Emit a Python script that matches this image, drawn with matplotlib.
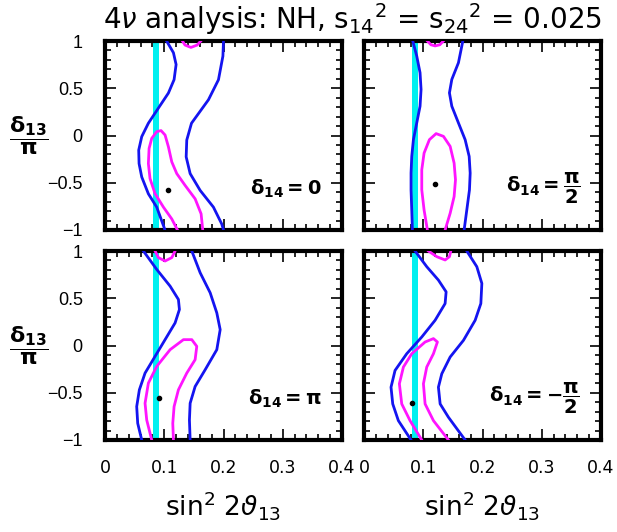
import matplotlib
matplotlib.use("Agg")
import matplotlib.pyplot as plt
from matplotlib.ticker import MultipleLocator

# --- data (x = sin^2 2theta13, y = delta13/pi) ---

# panel delta14 = 0
p0_blue_a_x = [0.104, 0.1155, 0.120, 0.1166, 0.107, 0.090, 0.0732, 0.062, 0.0569, 0.0575, 0.062, 0.0732, 0.0873, 0.0997, 0.101]
p0_blue_a_y = [1.0, 0.876, 0.751, 0.591, 0.449, 0.289, 0.130, -0.012, -0.155, -0.297, -0.439, -0.617, -0.758, -0.972, -1.0]
p0_blue_b_x = [0.200, 0.199, 0.1915, 0.1746, 0.146, 0.138, 0.137, 0.1437, 0.1606, 0.183, 0.197, 0.200]
p0_blue_b_y = [1.0, 0.84, 0.59, 0.378, 0.13, -0.048, -0.226, -0.403, -0.581, -0.758, -0.936, -1.0]
p0_mag_top_x = [0.1307, 0.135, 0.145, 0.1555, 0.1617]
p0_mag_top_y = [1.0, 0.957, 0.932, 0.957, 1.0]
p0_mag_x = [0.1223, 0.1127, 0.0986, 0.0845, 0.076, 0.0732, 0.0744, 0.0789, 0.0873, 0.0946, 0.1014,
            0.107, 0.1127, 0.1211, 0.1352, 0.1521, 0.1622, 0.165]
p0_mag_y = [-1.0, -0.883, -0.758, -0.616, -0.456, -0.297, -0.137, -0.030, 0.041, 0.052, 0.005,
            -0.119, -0.279, -0.403, -0.528, -0.67, -0.829, -1.0]
p0_best = (0.107, -0.574)

# panel delta14 = pi/2
p1_blue_a_x = [0.0823, 0.089, 0.0946, 0.0963, 0.0946, 0.089, 0.0834, 0.0806, 0.0794, 0.0794, 0.0806, 0.0817]
p1_blue_a_y = [1.0, 0.841, 0.664, 0.487, 0.310, 0.133, -0.044, -0.221, -0.398, -0.575, -0.788, -1.0]
p1_blue_b_x = [0.1668, 0.1594, 0.1482, 0.1442, 0.1482, 0.1594, 0.1707, 0.1775, 0.1792, 0.178, 0.1735, 0.169]
p1_blue_b_y = [1.0, 0.77, 0.593, 0.451, 0.310, 0.133, -0.044, -0.221, -0.398, -0.575, -0.788, -1.0]
p1_mag_top_x = [0.107, 0.113, 0.120, 0.128, 0.134]
p1_mag_top_y = [1.0, 0.96, 0.948, 0.96, 1.0]
p1_mag_x = [0.107, 0.1014, 0.0975, 0.0975, 0.1014, 0.1104, 0.1217, 0.1341, 0.1454, 0.1521, 0.1544,
            0.1521, 0.1454, 0.1369]
p1_mag_y = [-1.0, -0.788, -0.575, -0.363, -0.186, -0.044, 0.02, -0.009, -0.115, -0.292, -0.469,
            -0.646, -0.823, -1.0]
p1_best = (0.120, -0.51)

# panel delta14 = pi
p2_blue_a_x = [0.0648, 0.0873, 0.1099, 0.1239, 0.1256, 0.1183, 0.1014, 0.0845, 0.0676, 0.058, 0.0535, 0.0552, 0.062]
p2_blue_a_y = [1.0, 0.805, 0.628, 0.487, 0.381, 0.239, 0.062, -0.115, -0.292, -0.469, -0.646, -0.823, -1.0]
p2_blue_b_x = [0.1465, 0.1606, 0.1775, 0.1887, 0.1944, 0.1887, 0.169, 0.1521, 0.1437, 0.1425, 0.1437]
p2_blue_b_y = [1.0, 0.77, 0.558, 0.345, 0.168, -0.044, -0.257, -0.434, -0.611, -0.788, -1.0]
p2_mag_top_x = [0.0845, 0.0901, 0.1014, 0.1127, 0.1183]
p2_mag_top_y = [1.0, 0.93, 0.894, 0.93, 1.0]
p2_mag_x = [0.0789, 0.0704, 0.0676, 0.0732, 0.0873, 0.1099, 0.1324, 0.1465, 0.1549, 0.1521, 0.138,
            0.1239, 0.1166, 0.1144, 0.1155]
p2_mag_y = [-1.0, -0.788, -0.611, -0.398, -0.221, -0.044, 0.062, 0.062, -0.009, -0.150, -0.292,
            -0.469, -0.646, -0.823, -1.0]
p2_best = (0.0913, -0.558)

# panel delta14 = -pi/2
p3_blue_a_x = [0.0862, 0.1059, 0.1256, 0.1386, 0.1369, 0.12, 0.0975, 0.0721, 0.0524, 0.0456, 0.0485, 0.058, 0.0794]
p3_blue_a_y = [1.0, 0.834, 0.692, 0.568, 0.444, 0.267, 0.090, -0.087, -0.264, -0.441, -0.618, -0.795, -1.0]
p3_blue_b_x = [0.1735, 0.1904, 0.1989, 0.1972, 0.1876, 0.1679, 0.1454, 0.1313, 0.1256, 0.1285, 0.1425, 0.1707]
p3_blue_b_y = [1.0, 0.834, 0.657, 0.444, 0.267, 0.055, -0.122, -0.299, -0.441, -0.618, -0.759, -1.0]
p3_mag_top_x = [0.1087, 0.1228, 0.1369, 0.1442, 0.1465]
p3_mag_top_y = [1.0, 0.94, 0.905, 0.94, 1.0]
p3_mag_x = [0.0975, 0.0777, 0.0637, 0.0597, 0.0665, 0.0806, 0.1031, 0.1172, 0.1239, 0.1172, 0.1059,
            0.1003, 0.1031, 0.1172, 0.1425]
p3_mag_y = [-1.0, -0.795, -0.618, -0.405, -0.228, -0.087, 0.037, 0.073, 0.037, -0.087, -0.228,
            -0.405, -0.618, -0.795, -1.0]
p3_best = (0.0806, -0.607)

band = (0.081, 0.091)
panel_labels = [r"$\mathbf{\delta_{14} = 0}$", r"$\mathbf{\delta_{14} = \dfrac{\pi}{2}}$",
                r"$\mathbf{\delta_{14} = \pi}$", r"$\mathbf{\delta_{14} = -\dfrac{\pi}{2}}$"]
x_ticks = [0, 0.1, 0.2, 0.3, 0.4]
x_ticklabels = ["0", "0.1", "0.2", "0.3", "0.4"]
y_ticks = [-1, -0.5, 0, 0.5, 1]
y_ticklabels = ["\u22121", "\u22120.5", "0", "0.5", "1"]

panels = [
    (p0_blue_a_x, p0_blue_a_y, p0_blue_b_x, p0_blue_b_y, p0_mag_top_x, p0_mag_top_y, p0_mag_x, p0_mag_y, p0_best),
    (p1_blue_a_x, p1_blue_a_y, p1_blue_b_x, p1_blue_b_y, p1_mag_top_x, p1_mag_top_y, p1_mag_x, p1_mag_y, p1_best),
    (p2_blue_a_x, p2_blue_a_y, p2_blue_b_x, p2_blue_b_y, p2_mag_top_x, p2_mag_top_y, p2_mag_x, p2_mag_y, p2_best),
    (p3_blue_a_x, p3_blue_a_y, p3_blue_b_x, p3_blue_b_y, p3_mag_top_x, p3_mag_top_y, p3_mag_x, p3_mag_y, p3_best),
]

plt.rcParams['font.family'] = ['DejaVu Sans']
plt.rcParams['mathtext.fontset'] = 'dejavusans'

fig = plt.figure(figsize=(6.17, 5.32), dpi=100)

W = 617.0
H = 532.0
lefts = [105, 364]
tops = [41, 251]
aw = 237
ah = 189

for i, p in enumerate(panels):
    row = i // 2
    col = i % 2
    ax = fig.add_axes([lefts[col] / W, 1 - (tops[row] + ah) / H, aw / W, ah / H])
    bax, bay, bbx, bby, mtx, mty, mx, my, best = p

    ax.axvspan(band[0], band[1], color='#00f0f0', lw=0, zorder=1)
    ax.plot(bax, bay, color='#1414f0', lw=2, zorder=3)
    ax.plot(bbx, bby, color='#1414f0', lw=2, zorder=3)
    ax.plot(mtx, mty, color='#ff14ff', lw=2, zorder=3)
    ax.plot(mx, my, color='#ff14ff', lw=2, zorder=3)
    ax.plot([best[0]], [best[1]], 'o', color='black', ms=3, zorder=4)

    ax.set_xlim(0, 0.4)
    ax.set_ylim(-1, 1)
    ax.xaxis.set_major_locator(MultipleLocator(0.1))
    ax.xaxis.set_minor_locator(MultipleLocator(0.02))
    ax.yaxis.set_major_locator(MultipleLocator(0.5))
    ax.yaxis.set_minor_locator(MultipleLocator(0.1))
    ax.set_axisbelow(False)
    ax.tick_params(which='both', direction='in', top=True, right=True, width=1.2, color='black')
    ax.tick_params(which='major', length=8)
    ax.tick_params(which='minor', length=4.5)
    for s in ax.spines.values():
        s.set_linewidth(3)

    if col == 0:
        ax.set_yticks(y_ticks)
        ax.set_yticklabels(y_ticklabels, fontsize=13, family='Liberation Sans')
        ax.tick_params(axis='y', pad=16)
        ax.text(-0.32, 0.5, r"$\mathbf{\dfrac{\delta_{13}}{\pi}}$", transform=ax.transAxes,
                fontsize=16, ha='center', va='center')
    else:
        ax.tick_params(axis='y', labelleft=False)
    if row == 1:
        ax.set_xticks(x_ticks)
        ax.set_xticklabels(x_ticklabels, fontsize=12.5)
        ax.tick_params(axis='x', pad=14)
        ax.set_xlabel(r"sin$^2$ 2$\vartheta_{13}$", fontsize=19, labelpad=8)
    else:
        ax.tick_params(axis='x', labelbottom=False)

    ax.text(0.365, -0.56, panel_labels[i], fontsize=14, ha='right', va='center')

fig.text(0.571, 0.965, r"4$\nu$ analysis: NH, s$_{14}$$^2$ = s$_{24}$$^2$ = 0.025",
         fontsize=20, ha='center', va='center')

fig.savefig("out.png", dpi=100)
